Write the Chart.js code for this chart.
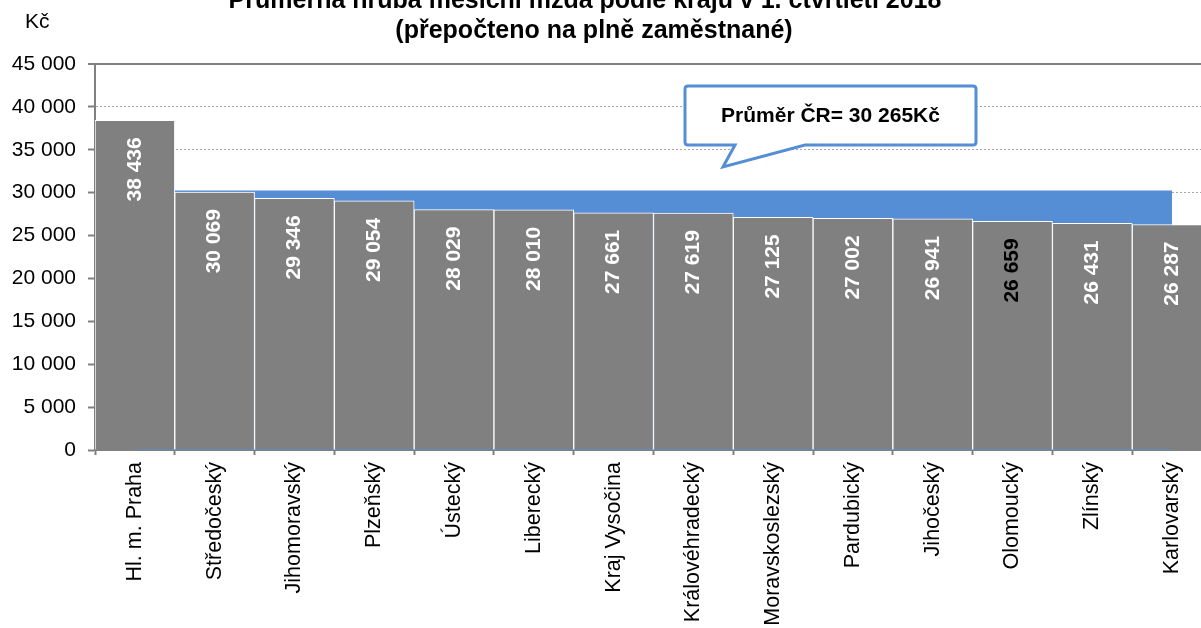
<!DOCTYPE html>
<html>
<head>
<meta charset="utf-8">
<script src="https://cdn.jsdelivr.net/npm/chart.js@4.4.1/dist/chart.umd.min.js"></script>
<style>
  body { margin: 0; overflow: hidden; background: #fff; }
  #wrap { position: absolute; left: 0; top: 0; width: 1212px; height: 628px; }
</style>
</head>
<body>
<div id="wrap"><canvas id="mzdyChart" width="1212" height="628"></canvas></div>
<script>
const kraje = ['Hl. m. Praha', 'Středočeský', 'Jihomoravský', 'Plzeňský', 'Ústecký', 'Liberecký',
  'Kraj Vysočina', 'Královéhradecký', 'Moravskoslezský', 'Pardubický', 'Jihočeský', 'Olomoucký',
  'Zlínský', 'Karlovarský'];
const mzdy = [38436, 30069, 29346, 29054, 28029, 28010, 27661, 27619, 27125, 27002, 26941, 26659, 26431, 26287];
const prumerCR = 30265;
const yMin = 0;
const yMax = 45000;
const yKrok = 5000;

const titulek = ['Průměrná hrubá měsíční mzda podle krajů v 1. čtvrtletí 2018', '(přepočteno na plně zaměstnané)'];
const jednotka = 'Kč';
const popisPrumeru = 'Průměr ČR= 30 265Kč';

const pismo = '"Liberation Sans", Arial, sans-serif';
const modra = '#558ed5';

function mezery(v) {
  return String(v).replace(/\B(?=(\d{3})+(?!\d))/g, ' ');
}

// titulek, jednotka, popisky sloupcu a bublina s prumerem
const kresleni = {
  id: 'kresleni',
  afterDatasetsDraw(chart) {
    const ctx = chart.ctx;
    const meta = chart.getDatasetMeta(0);
    ctx.save();
    ctx.font = 'bold 21px ' + pismo;
    ctx.textAlign = 'right';
    ctx.textBaseline = 'middle';
    meta.data.forEach((bar, i) => {
      ctx.save();
      ctx.translate(bar.x, bar.y + 17);
      ctx.rotate(-Math.PI / 2);
      ctx.fillStyle = kraje[i] === 'Olomoucký' ? '#000' : '#fff';
      ctx.fillText(mezery(mzdy[i]), 0, 0);
      ctx.restore();
    });
    ctx.restore();
  },
  afterDraw(chart) {
    const ctx = chart.ctx;
    const a = chart.chartArea;
    ctx.save();

    // titulek (horni radek je orizly)
    ctx.fillStyle = '#000';
    ctx.font = 'bold 25px ' + pismo;
    ctx.textAlign = 'center';
    ctx.textBaseline = 'alphabetic';
    ctx.fillText(titulek[0], 585, 8);
    ctx.fillText(titulek[1], 594, 38);

    ctx.font = '21px ' + pismo;
    ctx.textAlign = 'left';
    ctx.fillText(jednotka, 25, 28);

    // bublina
    const l = a.left + 590, r = a.left + 881, t = a.top + 22, b = a.top + 81;
    const tipX = a.left + 628, tipY = a.top + 103;
    const k = 3;
    ctx.beginPath();
    ctx.moveTo(l + k, t);
    ctx.lineTo(r - k, t);
    ctx.quadraticCurveTo(r, t, r, t + k);
    ctx.lineTo(r, b - k);
    ctx.quadraticCurveTo(r, b, r - k, b);
    ctx.lineTo(a.left + 710, b);
    ctx.lineTo(tipX, tipY);
    ctx.lineTo(a.left + 640, b);
    ctx.lineTo(l + k, b);
    ctx.quadraticCurveTo(l, b, l, b - k);
    ctx.lineTo(l, t + k);
    ctx.quadraticCurveTo(l, t, l + k, t);
    ctx.closePath();
    ctx.fillStyle = '#fff';
    ctx.fill();
    ctx.lineWidth = 3;
    ctx.strokeStyle = modra;
    ctx.stroke();

    ctx.fillStyle = '#000';
    ctx.font = 'bold 21px ' + pismo;
    ctx.textAlign = 'center';
    ctx.textBaseline = 'middle';
    ctx.fillText(popisPrumeru, (l + r) / 2, (t + b) / 2 + 1);
    ctx.restore();
  }
};

new Chart(document.getElementById('mzdyChart'), {
  type: 'bar',
  data: {
    labels: kraje,
    datasets: [{
      label: 'Mzda',
      data: mzdy,
      backgroundColor: '#808080',
      borderColor: '#ffffff',
      borderWidth: 1,
      barPercentage: 1,
      categoryPercentage: 1,
      order: 1
    }, {
      type: 'line',
      label: 'Průměr ČR',
      data: kraje.map(() => prumerCR),
      borderWidth: 0,
      borderColor: modra,
      backgroundColor: modra,
      pointRadius: 0,
      fill: 'origin',
      order: 2
    }]
  },
  options: {
    responsive: false,
    animation: false,
    layout: { padding: { top: 64, left: 0, right: 0, bottom: 0 } },
    plugins: {
      legend: { display: false },
      title: { display: false },
      tooltip: { enabled: false }
    },
    scales: {
      x: {
        afterFit(scale) { scale.height = 178; },
        grid: {
          offset: true,
          drawOnChartArea: false,
          drawTicks: true,
          tickLength: 5,
          tickColor: '#808080',
          tickWidth: 2
        },
        border: { color: '#808080', width: 2 },
        ticks: {
          autoSkip: false,
          maxRotation: 90,
          minRotation: 90,
          padding: 7,
          color: '#000',
          font: { family: pismo, size: 21.5 }
        }
      },
      y: {
        min: yMin,
        max: yMax,
        afterFit(scale) { scale.width = 95; },
        grid: {
          color: ctx => ctx.tick && ctx.tick.value === yMax ? '#808080' : '#a6a6a6',
          lineWidth: ctx => ctx.tick && ctx.tick.value === yMax ? 2 : 1,
          tickColor: '#808080',
          tickWidth: 2,
          tickLength: 7,
          tickBorderDash: []
        },
        border: {
          color: '#808080',
          width: 2,
          dash: ctx => ctx.tick && ctx.tick.value === yMax ? [] : [2, 2]
        },
        ticks: {
          stepSize: yKrok,
          padding: 12,
          color: '#000',
          font: { family: pismo, size: 21 },
          callback: v => mezery(v)
        }
      }
    }
  },
  plugins: [kresleni]
});
</script>
</body>
</html>
